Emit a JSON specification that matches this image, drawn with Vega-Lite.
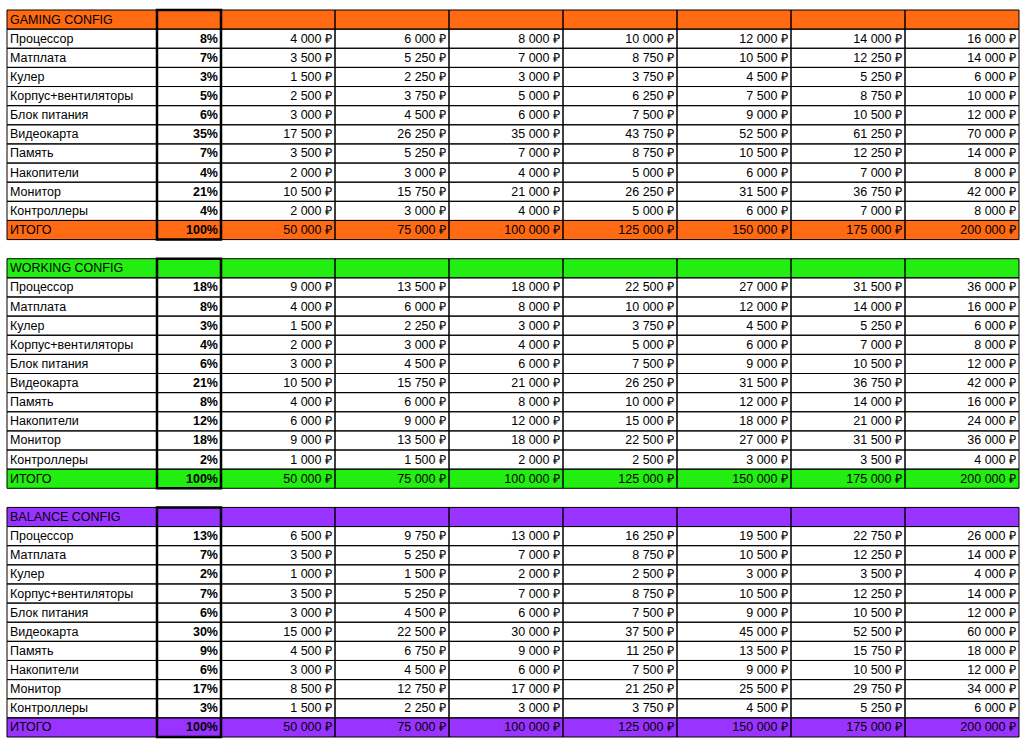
{
  "$schema": "https://vega.github.io/schema/vega-lite/v6.json",
  "width": 1012,
  "height": 727,
  "autosize": "none",
  "padding": {"left": 7, "top": 10, "right": 7, "bottom": 9},
  "background": "white",
  "config": {
    "view": {"stroke": null},
    "locale": {"number": {"decimal": ",", "thousands": " ", "grouping": [3], "currency": ["", " ₽"]}},
    "text": {"font": "Liberation Sans", "fontSize": 12.5}
  },
  "data": {"values": [
    {"g": "G", "kind": "head", "r": 0, "n": "GAMING CONFIG"},
    {"g": "G", "kind": "row", "r": 1, "n": "Процессор", "p": 0.08, "a": 4000, "b": 6000, "c": 8000, "d": 10000, "e": 12000, "f": 14000, "h": 16000},
    {"g": "G", "kind": "row", "r": 2, "n": "Матплата", "p": 0.07, "a": 3500, "b": 5250, "c": 7000, "d": 8750, "e": 10500, "f": 12250, "h": 14000},
    {"g": "G", "kind": "row", "r": 3, "n": "Кулер", "p": 0.03, "a": 1500, "b": 2250, "c": 3000, "d": 3750, "e": 4500, "f": 5250, "h": 6000},
    {"g": "G", "kind": "row", "r": 4, "n": "Корпус+вентиляторы", "p": 0.05, "a": 2500, "b": 3750, "c": 5000, "d": 6250, "e": 7500, "f": 8750, "h": 10000},
    {"g": "G", "kind": "row", "r": 5, "n": "Блок питания", "p": 0.06, "a": 3000, "b": 4500, "c": 6000, "d": 7500, "e": 9000, "f": 10500, "h": 12000},
    {"g": "G", "kind": "row", "r": 6, "n": "Видеокарта", "p": 0.35, "a": 17500, "b": 26250, "c": 35000, "d": 43750, "e": 52500, "f": 61250, "h": 70000},
    {"g": "G", "kind": "row", "r": 7, "n": "Память", "p": 0.07, "a": 3500, "b": 5250, "c": 7000, "d": 8750, "e": 10500, "f": 12250, "h": 14000},
    {"g": "G", "kind": "row", "r": 8, "n": "Накопители", "p": 0.04, "a": 2000, "b": 3000, "c": 4000, "d": 5000, "e": 6000, "f": 7000, "h": 8000},
    {"g": "G", "kind": "row", "r": 9, "n": "Монитор", "p": 0.21, "a": 10500, "b": 15750, "c": 21000, "d": 26250, "e": 31500, "f": 36750, "h": 42000},
    {"g": "G", "kind": "row", "r": 10, "n": "Контроллеры", "p": 0.04, "a": 2000, "b": 3000, "c": 4000, "d": 5000, "e": 6000, "f": 7000, "h": 8000},
    {"g": "G", "kind": "total", "r": 11, "n": "ИТОГО", "p": 1, "a": 50000, "b": 75000, "c": 100000, "d": 125000, "e": 150000, "f": 175000, "h": 200000},
    {"g": "W", "kind": "head", "r": 13, "n": "WORKING CONFIG"},
    {"g": "W", "kind": "row", "r": 14, "n": "Процессор", "p": 0.18, "a": 9000, "b": 13500, "c": 18000, "d": 22500, "e": 27000, "f": 31500, "h": 36000},
    {"g": "W", "kind": "row", "r": 15, "n": "Матплата", "p": 0.08, "a": 4000, "b": 6000, "c": 8000, "d": 10000, "e": 12000, "f": 14000, "h": 16000},
    {"g": "W", "kind": "row", "r": 16, "n": "Кулер", "p": 0.03, "a": 1500, "b": 2250, "c": 3000, "d": 3750, "e": 4500, "f": 5250, "h": 6000},
    {"g": "W", "kind": "row", "r": 17, "n": "Корпус+вентиляторы", "p": 0.04, "a": 2000, "b": 3000, "c": 4000, "d": 5000, "e": 6000, "f": 7000, "h": 8000},
    {"g": "W", "kind": "row", "r": 18, "n": "Блок питания", "p": 0.06, "a": 3000, "b": 4500, "c": 6000, "d": 7500, "e": 9000, "f": 10500, "h": 12000},
    {"g": "W", "kind": "row", "r": 19, "n": "Видеокарта", "p": 0.21, "a": 10500, "b": 15750, "c": 21000, "d": 26250, "e": 31500, "f": 36750, "h": 42000},
    {"g": "W", "kind": "row", "r": 20, "n": "Память", "p": 0.08, "a": 4000, "b": 6000, "c": 8000, "d": 10000, "e": 12000, "f": 14000, "h": 16000},
    {"g": "W", "kind": "row", "r": 21, "n": "Накопители", "p": 0.12, "a": 6000, "b": 9000, "c": 12000, "d": 15000, "e": 18000, "f": 21000, "h": 24000},
    {"g": "W", "kind": "row", "r": 22, "n": "Монитор", "p": 0.18, "a": 9000, "b": 13500, "c": 18000, "d": 22500, "e": 27000, "f": 31500, "h": 36000},
    {"g": "W", "kind": "row", "r": 23, "n": "Контроллеры", "p": 0.02, "a": 1000, "b": 1500, "c": 2000, "d": 2500, "e": 3000, "f": 3500, "h": 4000},
    {"g": "W", "kind": "total", "r": 24, "n": "ИТОГО", "p": 1, "a": 50000, "b": 75000, "c": 100000, "d": 125000, "e": 150000, "f": 175000, "h": 200000},
    {"g": "B", "kind": "head", "r": 26, "n": "BALANCE CONFIG"},
    {"g": "B", "kind": "row", "r": 27, "n": "Процессор", "p": 0.13, "a": 6500, "b": 9750, "c": 13000, "d": 16250, "e": 19500, "f": 22750, "h": 26000},
    {"g": "B", "kind": "row", "r": 28, "n": "Матплата", "p": 0.07, "a": 3500, "b": 5250, "c": 7000, "d": 8750, "e": 10500, "f": 12250, "h": 14000},
    {"g": "B", "kind": "row", "r": 29, "n": "Кулер", "p": 0.02, "a": 1000, "b": 1500, "c": 2000, "d": 2500, "e": 3000, "f": 3500, "h": 4000},
    {"g": "B", "kind": "row", "r": 30, "n": "Корпус+вентиляторы", "p": 0.07, "a": 3500, "b": 5250, "c": 7000, "d": 8750, "e": 10500, "f": 12250, "h": 14000},
    {"g": "B", "kind": "row", "r": 31, "n": "Блок питания", "p": 0.06, "a": 3000, "b": 4500, "c": 6000, "d": 7500, "e": 9000, "f": 10500, "h": 12000},
    {"g": "B", "kind": "row", "r": 32, "n": "Видеокарта", "p": 0.30, "a": 15000, "b": 22500, "c": 30000, "d": 37500, "e": 45000, "f": 52500, "h": 60000},
    {"g": "B", "kind": "row", "r": 33, "n": "Память", "p": 0.09, "a": 4500, "b": 6750, "c": 9000, "d": 11250, "e": 13500, "f": 15750, "h": 18000},
    {"g": "B", "kind": "row", "r": 34, "n": "Накопители", "p": 0.06, "a": 3000, "b": 4500, "c": 6000, "d": 7500, "e": 9000, "f": 10500, "h": 12000},
    {"g": "B", "kind": "row", "r": 35, "n": "Монитор", "p": 0.17, "a": 8500, "b": 12750, "c": 17000, "d": 21250, "e": 25500, "f": 29750, "h": 34000},
    {"g": "B", "kind": "row", "r": 36, "n": "Контроллеры", "p": 0.03, "a": 1500, "b": 2250, "c": 3000, "d": 3750, "e": 4500, "f": 5250, "h": 6000},
    {"g": "B", "kind": "total", "r": 37, "n": "ИТОГО", "p": 1, "a": 50000, "b": 75000, "c": 100000, "d": 125000, "e": 150000, "f": 175000, "h": 200000}
  ]},
  "transform": [
    {"calculate": "datum.r + 1", "as": "r2"},
    {"calculate": "datum.r + 0.5", "as": "rm"}
  ],
  "layer": [
    {
      "transform": [{"filter": "datum.kind != 'row'"}],
      "mark": {"type": "rect"},
      "encoding": {
        "x": {"datum": 0, "type": "quantitative", "axis": null,
              "scale": {"domain": [0, 1, 2, 3, 4, 5, 6, 7, 8, 9], "range": [0, 150, 214, 328, 442, 556, 670, 784, 898, 1012], "zero": false, "nice": false}},
        "x2": {"datum": 9},
        "y": {"field": "r", "type": "quantitative", "axis": null,
              "scale": {"domain": [0, 38], "range": [0, 727], "zero": false, "nice": false}},
        "y2": {"field": "r2"},
        "fill": {"field": "g", "type": "nominal", "legend": null,
                 "scale": {"domain": ["G", "W", "B"], "range": ["#ff6a13", "#22ee11", "#9933ff"]}}
      }
    },
    {
      "transform": [
        {"fold": ["n", "p", "a", "b", "c", "d", "e", "f", "h"], "as": ["k", "v"]},
        {"calculate": "indexof(['n','p','a','b','c','d','e','f','h'], datum.k)", "as": "col"},
        {"calculate": "datum.col + 1", "as": "col2"}
      ],
      "mark": {"type": "rect", "fill": null, "stroke": "black", "strokeWidth": 1},
      "encoding": {
        "x": {"field": "col", "type": "quantitative"},
        "x2": {"field": "col2"},
        "y": {"field": "r", "type": "quantitative"},
        "y2": {"field": "r2"}
      }
    },
    {
      "transform": [
        {"filter": "datum.kind == 'head'"},
        {"calculate": "datum.r + 12", "as": "rb"}
      ],
      "mark": {"type": "rect", "fill": null, "stroke": "black", "strokeWidth": 2.5},
      "encoding": {
        "x": {"datum": 1, "type": "quantitative"},
        "x2": {"datum": 2},
        "y": {"field": "r", "type": "quantitative"},
        "y2": {"field": "rb"}
      }
    },
    {
      "mark": {"type": "text", "align": "left", "baseline": "middle", "dx": 3},
      "encoding": {
        "x": {"datum": 0, "type": "quantitative"},
        "y": {"field": "rm", "type": "quantitative"},
        "text": {"field": "n"},
        "fontWeight": {"condition": {"test": "datum.kind != 'row'", "value": "bold"}, "value": "normal"}
      }
    },
    {
      "transform": [{"filter": "datum.kind != 'head'"}],
      "mark": {"type": "text", "align": "right", "baseline": "middle", "dx": -3, "fontWeight": "bold"},
      "encoding": {
        "x": {"datum": 2, "type": "quantitative"},
        "y": {"field": "rm", "type": "quantitative"},
        "text": {"field": "p", "format": ".0%"}
      }
    },
    {
      "transform": [
        {"filter": "datum.kind != 'head'"},
        {"fold": ["a", "b", "c", "d", "e", "f", "h"], "as": ["k", "v"]},
        {"calculate": "indexof(['n','p','a','b','c','d','e','f','h'], datum.k) + 1", "as": "xe"}
      ],
      "mark": {"type": "text", "align": "right", "baseline": "middle", "dx": -3},
      "encoding": {
        "x": {"field": "xe", "type": "quantitative"},
        "y": {"field": "rm", "type": "quantitative"},
        "text": {"field": "v", "type": "quantitative", "format": "$,.0f"},
        "fontWeight": {"condition": {"test": "datum.kind != 'row'", "value": "bold"}, "value": "normal"}
      }
    }
  ]
}
